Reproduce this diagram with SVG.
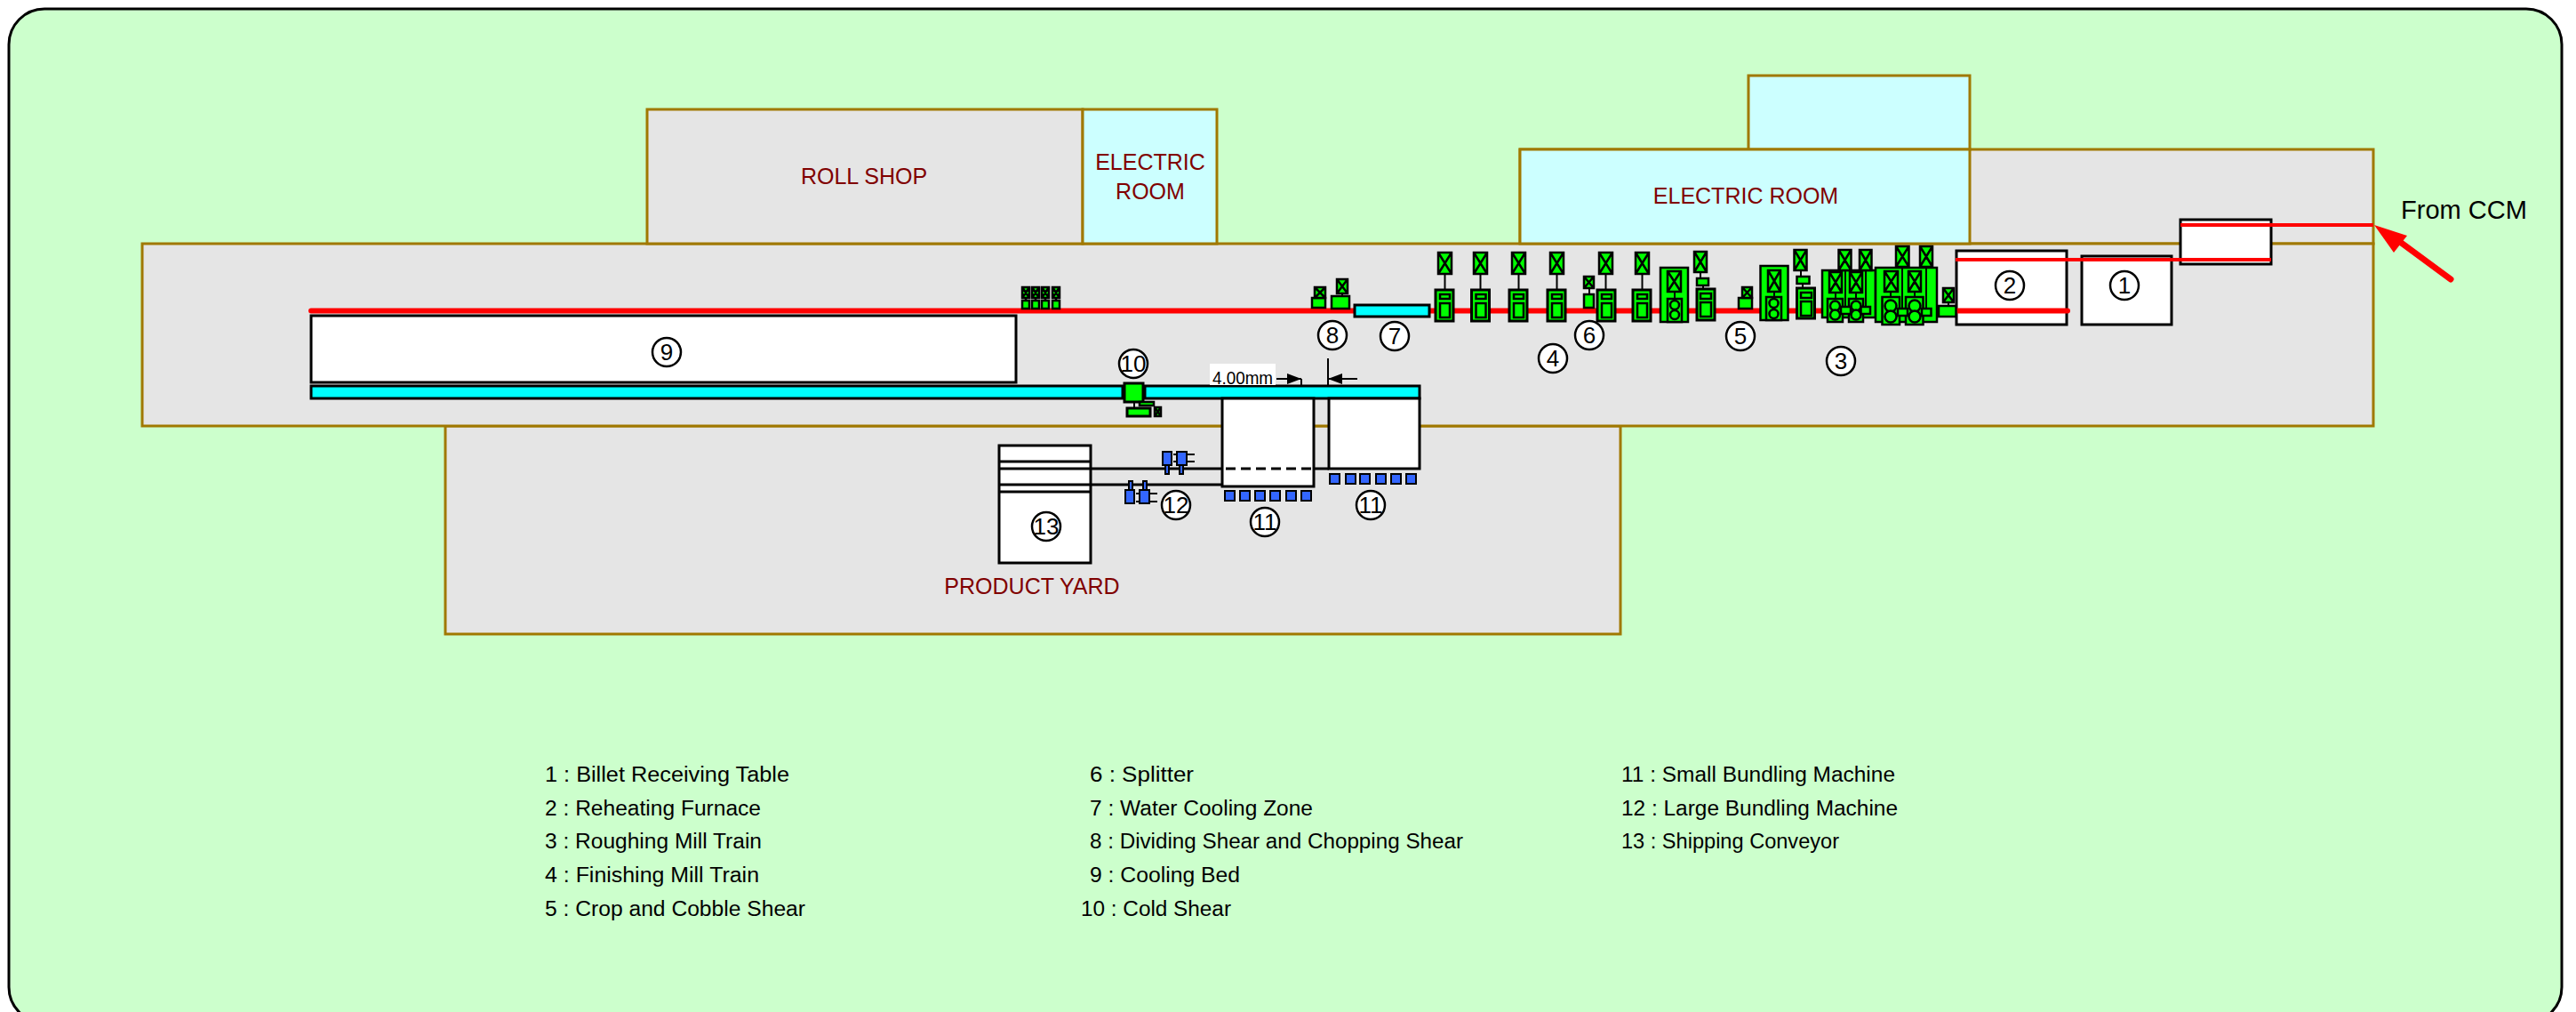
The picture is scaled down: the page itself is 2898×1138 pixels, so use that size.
<svg xmlns="http://www.w3.org/2000/svg" width="2898" height="1138" viewBox="0 0 2898 1138">
<style>
text{font-family:"Liberation Sans",Arial,sans-serif;fill:#000}
.b{fill:#e5e5e5;stroke:#a07800;stroke-width:3}
.c{fill:#ccffff;stroke:#a07800;stroke-width:3}
.r{font-size:25px;fill:#800000;text-anchor:middle}
.l{font-size:23px}
.n{font-size:26px;text-anchor:middle}
.o{fill:#fff;stroke:#000;stroke-width:2.5}
.w{fill:#fff;stroke:#000;stroke-width:3}
.g{fill:#00ff00;stroke:#000;stroke-width:2.5}
.g2{fill:#00ff00;stroke:#000;stroke-width:3}
.q{fill:#00ffff;stroke:#000;stroke-width:3}
.p{fill:#3366ff;stroke:#000;stroke-width:2}
.k{fill:none;stroke:#000;stroke-width:2}
.k3{fill:none;stroke:#000;stroke-width:3}
.red{fill:none;stroke:#f00}
</style>
<defs>
<marker id="ah" markerUnits="userSpaceOnUse" markerWidth="17" markerHeight="12" refX="16" refY="6" orient="auto"><path d="M0 0L16 6L0 12Z" fill="#000"/></marker>
</defs>
<rect id="background" x="10" y="10" width="2872" height="1140" rx="40" ry="40" fill="#ccffcc" stroke="#000" stroke-width="3"/>

<g id="buildings">
<g id="mill-building"><rect class="b" x="1710" y="168" width="960" height="106"/><rect class="b" x="501" y="479" width="1322" height="234"/><rect class="b" x="160" y="274" width="2510" height="205"/></g>
<g id="roll-shop"><rect class="b" x="728" y="123" width="490" height="151"/><text class="r" x="972" y="207">ROLL SHOP</text></g>
<g id="electric-room-1"><rect class="c" x="1218" y="123" width="151" height="151"/><text class="r" x="1294" y="191">ELECTRIC</text><text class="r" x="1294" y="224">ROOM</text></g>
<g id="electric-room-2"><rect class="c" x="1967" y="85" width="249" height="83"/><rect class="c" x="1710" y="168" width="506" height="106"/><text class="r" x="1964" y="229">ELECTRIC ROOM</text></g>
<g id="product-yard-label"><text class="r" x="1161" y="668">PRODUCT YARD</text></g>
</g>

<g id="node-1"><rect class="w" x="2342" y="288" width="101" height="77"/><circle class="o" cx="2390" cy="321" r="16"/><text class="n" x="2390" y="330">1</text></g>
<g id="node-2"><rect class="w" x="2201" y="282" width="124" height="83"/><circle class="o" cx="2261" cy="321" r="16"/><text class="n" x="2261" y="330">2</text></g>
<g id="transfer-table"><rect class="w" x="2453" y="247" width="102" height="50"/></g>

<g id="connectors">
<path class="red" stroke-width="6" d="M350 349.500H1524M1608 349.500H2326" stroke-linecap="round"/>
<path class="red" stroke-width="4" d="M2200 292H2555M2453 253H2670"/>
<path class="red" stroke-width="7" stroke-linecap="round" d="M2757 314L2700 272"/>
<path fill="#f00" d="M2671 253L2708 265L2693 284Z"/>
<path class="k3" d="M1227 527H1375M1478 527H1495M1227 545H1375"/>
</g>

<g id="node-9"><rect class="w" x="350" y="355" width="793" height="75"/><circle class="o" cx="750" cy="396" r="16"/><text class="n" x="750" y="405">9</text></g>

<g id="cooling-conveyor"><rect class="q" x="350" y="434" width="913" height="14"/><rect class="q" x="1288" y="434" width="309" height="14"/></g>

<g id="node-10"><rect class="g2" x="1265" y="431" width="21" height="21"/><path class="k" d="M1276 452V459"/><rect class="g" x="1282" y="452" width="16" height="4"/><rect class="g2" x="1268" y="459" width="26" height="9"/><path class="g" stroke-width="1.5" d="M1299 458h7v10h-7zl7 10m0-10l-7 10"/><circle class="o" cx="1275" cy="409" r="16"/><text class="n" x="1275" y="418">10</text></g>

<g id="small-drives">
<path class="g" d="M1150 323h8v12h-8zl8 12m0-12l-8 12M1161 323h8v12h-8zl8 12m0-12l-8 12M1172 323h8v12h-8zl8 12m0-12l-8 12M1184 323h8v12h-8zl8 12m0-12l-8 12"/>
<path class="g" d="M1154 335v3M1165 335v3M1176 335v3M1188 335v3"/>
<rect class="g" x="1150" y="338" width="8" height="9"/><rect class="g" x="1161" y="338" width="8" height="9"/><rect class="g" x="1172" y="338" width="8" height="9"/><rect class="g" x="1184" y="338" width="8" height="9"/>
</g>

<g id="node-8"><rect class="g" x="1476" y="335" width="15" height="11"/><path class="g" d="M1479 323h12v12h-12zl12 12m0-12l-12 12"/><rect class="g" x="1498" y="333" width="20" height="14"/><path class="k" d="M1510 330v3"/><path class="g" d="M1504 314h12v16h-12zl12 16m0-16l-12 16"/><circle class="o" cx="1499" cy="377" r="16"/><text class="n" x="1499" y="386">8</text></g>

<g id="node-7"><rect class="q" x="1524" y="343" width="84" height="13"/><circle class="o" cx="1569" cy="378" r="16"/><text class="n" x="1569" y="387">7</text></g>

<g id="dimension">
<rect x="1361" y="409" width="74" height="24" fill="#fff"/>
<text x="1364" y="432" font-size="21" textLength="68" lengthAdjust="spacingAndGlyphs">4.00mm</text>
<path class="k" stroke-width="1.5" d="M1436 426H1464" marker-end="url(#ah)"/><path class="k" stroke-width="1.5" d="M1464 426V434M1494 403V434"/><path class="k" stroke-width="1.5" d="M1527 426H1494" marker-end="url(#ah)"/>
</g>

<g id="node-4">
<g id="stand-1"><path class="k" d="M1625.500 308V341"/><path class="g" d="M1618 284h15v24h-15zl15 24m0-24l-15 24"/><rect class="g2" x="1615" y="326" width="20" height="35"/><rect class="g" x="1620" y="331" width="11" height="5"/><rect class="g" x="1620" y="341" width="11" height="16"/></g>
<g id="stand-2"><path class="g" d="M1658 284h15v24h-15zl15 24m0-24l-15 24"/><path class="k" d="M1665.500 308V341"/><rect class="g2" x="1655.500" y="326" width="20" height="35"/><rect class="g" x="1660.500" y="331" width="11" height="5"/><rect class="g" x="1660.500" y="341" width="11" height="16"/></g>
<g id="stand-3"><path class="g" d="M1701 284h15v24h-15zl15 24m0-24l-15 24"/><path class="k" d="M1708.500 308V326"/><rect class="g2" x="1698" y="326" width="20" height="35"/><rect class="g" x="1703" y="331" width="11" height="5"/><rect class="g" x="1703" y="341" width="11" height="16"/></g>
<g id="stand-4"><path class="g" d="M1744 284h15v24h-15zl15 24m0-24l-15 24"/><path class="k" d="M1751.500 308V326"/><rect class="g2" x="1741" y="326" width="20" height="35"/><rect class="g" x="1746" y="331" width="11" height="5"/><rect class="g" x="1746" y="341" width="11" height="16"/></g>
<g id="stand-5"><path class="g" d="M1799 284h15v24h-15zl15 24m0-24l-15 24"/><path class="k" d="M1806.500 308V326"/><rect class="g2" x="1797" y="326" width="20" height="35"/><rect class="g" x="1802" y="331" width="11" height="5"/><rect class="g" x="1802" y="341" width="11" height="16"/></g>
<g id="stand-6"><path class="g" d="M1840 284h15v24h-15zl15 24m0-24l-15 24"/><path class="k" d="M1847.500 308V326"/><rect class="g2" x="1837" y="326" width="20" height="35"/><rect class="g" x="1842" y="331" width="11" height="5"/><rect class="g" x="1842" y="341" width="11" height="16"/></g>
<g id="stand-7"><rect class="g" x="1868" y="301" width="31" height="61"/><path class="k" d="M1884 328v8"/><path class="g" d="M1876 305h15v23h-15zl15 23m0-23l-15 23"/><rect class="g" x="1876" y="336" width="16" height="26"/><circle class="g" cx="1884" cy="343" r="5"/><circle class="g" cx="1884" cy="354" r="5"/></g>
<g id="stand-8"><path class="g" d="M1906 283h14v23h-14zl14 23m0-23l-14 23"/><path class="k" d="M1913 306v7M1916 321v4"/><rect class="g" x="1909" y="313" width="13" height="8"/><rect class="g2" x="1909" y="325" width="20" height="35"/><rect class="g" x="1913" y="330" width="12" height="6"/><rect class="g" x="1913" y="340" width="12" height="16"/></g>
<circle class="o" cx="1747" cy="403" r="16"/><text class="n" x="1747" y="412">4</text>
</g>

<g id="node-6"><path class="g" d="M1782 311h11v13h-11zl11 13m0-13l-11 13"/><path class="k" d="M1788 324v7"/><rect class="g" x="1782" y="331" width="11" height="15"/><circle class="o" cx="1788" cy="377" r="16"/><text class="n" x="1788" y="386">6</text></g>

<g id="node-5"><rect class="g" x="1956" y="335" width="15" height="12"/><path class="g" d="M1960 323h11v12h-11zl11 12m0-12l-11 12"/><circle class="o" cx="1958" cy="378" r="16"/><text class="n" x="1958" y="387">5</text></g>

<g id="node-3">
<g id="rough-1"><rect class="g" x="1980.500" y="299" width="31" height="61"/><path class="k" d="M1996 328v6"/><path class="g" d="M1989 304h14v24h-14zl14 24m0-24l-14 24"/><rect class="g" x="1987" y="334" width="17" height="26"/><circle class="g" cx="1995.500" cy="341" r="5"/><circle class="g" cx="1995.500" cy="353" r="5"/></g>
<g id="rough-2"><path class="g" d="M2018.500 281h14v23h-14zl14 23m0-23l-14 23"/><path class="k" d="M2026 304v7M2028 319v5"/><rect class="g" x="2021.500" y="311" width="14" height="8"/><rect class="g2" x="2021.500" y="324" width="20" height="34"/><rect class="g" x="2026" y="329" width="12" height="6"/><rect class="g" x="2026" y="339" width="12" height="16"/></g>
<g id="rough-3">
<rect class="g" x="2050" y="304" width="60" height="53"/>
<path class="g" d="M2068.500 281h14v23h-14zl14 23m0-23l-14 23M2092 281h13.500v23h-13.500zl13.500 23m0-23l-13.500 23"/>
<path class="k" d="M2076 304v41M2099 304v41M2065 329v7M2088 329v7"/>
<path class="g" d="M2058 306h14v23h-14zl14 23m0-23l-14 23M2081 306h14v23h-14zl14 23m0-23l-14 23"/>
<rect class="g" x="2056" y="336" width="17" height="26"/><rect class="g" x="2080" y="336" width="16" height="26"/>
<circle class="g" cx="2064.500" cy="344" r="5.500"/><circle class="g" cx="2064.500" cy="354" r="5.500"/><circle class="g" cx="2088" cy="344" r="5.500"/><circle class="g" cx="2088" cy="354" r="5.500"/>
<rect class="g" x="2071" y="345" width="11" height="8"/><rect class="g" x="2093.500" y="345" width="10.500" height="8"/>
</g>
<g id="rough-4">
<rect class="g" x="2110" y="301" width="69" height="61"/>
<path class="g" d="M2133 277h14.500v23h-14.500zl14.500 23m0-23l-14.500 23M2160 277h14v23h-14zl14 23m0-23l-14 23"/>
<path class="k" d="M2140 300v47M2167 300v47M2127 328v6M2154 328v6"/>
<path class="g" d="M2120 305h15v23h-15zl15 23m0-23l-15 23M2147 305h14v23h-14zl14 23m0-23l-14 23"/>
<rect class="g" x="2117.500" y="334" width="19.500" height="31"/><rect class="g" x="2144" y="334" width="19.500" height="31"/>
<circle class="g" cx="2127" cy="344" r="6.500"/><circle class="g" cx="2127" cy="356" r="6.500"/><circle class="g" cx="2154" cy="344" r="6.500"/><circle class="g" cx="2154" cy="356" r="6.500"/>
<rect class="g" x="2135" y="347" width="11" height="8"/><rect class="g" x="2162" y="347" width="10.500" height="8"/>
</g>
<g id="rough-5"><path class="k" d="M2192 340v4"/><path class="g" d="M2186 324h12v16h-12zl12 16m0-16l-12 16"/><rect class="g" x="2181" y="344" width="19.500" height="12"/></g>
<circle class="o" cx="2071" cy="406" r="16"/><text class="n" x="2071" y="415">3</text>
</g>

<g id="node-11a"><rect class="w" x="1375" y="448" width="103" height="99"/>
<path class="k3" stroke-dasharray="11 6" d="M1379 527H1478"/>
<rect class="p" x="1378" y="552" width="11" height="11"/><rect class="p" x="1395" y="552" width="11" height="11"/><rect class="p" x="1412" y="552" width="11" height="11"/><rect class="p" x="1429" y="552" width="11" height="11"/><rect class="p" x="1447" y="552" width="11" height="11"/><rect class="p" x="1464" y="552" width="11" height="11"/>
<circle class="o" cx="1423" cy="587" r="16"/><text class="n" x="1423" y="596">11</text></g>

<g id="node-11b"><rect class="w" x="1495" y="448" width="102" height="79"/>
<rect class="p" x="1496" y="533" width="11" height="11"/><rect class="p" x="1514" y="533" width="11" height="11"/><rect class="p" x="1530" y="533" width="11" height="11"/><rect class="p" x="1548" y="533" width="11" height="11"/><rect class="p" x="1565" y="533" width="11" height="11"/><rect class="p" x="1582" y="533" width="11" height="11"/>
<circle class="o" cx="1542" cy="568" r="16"/><text class="n" x="1542" y="577">11</text></g>

<g id="node-12">
<path class="k" d="M1320 511H1344M1320 519H1344M1278 555H1302M1278 564H1302"/>
<rect class="p" x="1311" y="523" width="4" height="10"/><rect class="p" x="1327" y="523" width="4" height="10"/><rect class="p" x="1270" y="541" width="4" height="10"/><rect class="p" x="1286" y="541" width="4" height="10"/>
<rect class="p" x="1308" y="508" width="10" height="15"/><rect class="p" x="1324" y="508" width="11" height="15"/><rect class="p" x="1266" y="551" width="10" height="15"/><rect class="p" x="1282" y="551" width="11" height="15"/>
<circle class="o" cx="1323" cy="568" r="16"/><text class="n" x="1323" y="577">12</text></g>

<g id="node-13"><rect class="w" x="1124" y="501" width="103" height="132"/><path class="k3" d="M1124 519H1227M1124 527H1227M1124 545H1227M1124 553H1227"/><circle class="o" cx="1177" cy="592" r="16"/><text class="n" x="1177" y="601">13</text></g>

<g id="from-ccm"><text x="2701" y="246" font-size="30" textLength="142" lengthAdjust="spacingAndGlyphs">From CCM</text></g>

<g id="legend">
<text class="l" x="613" y="879" textLength="275" lengthAdjust="spacingAndGlyphs">1 : Billet Receiving Table</text>
<text class="l" x="613" y="917" textLength="243" lengthAdjust="spacingAndGlyphs">2 : Reheating Furnace</text>
<text class="l" x="613" y="954" textLength="244" lengthAdjust="spacingAndGlyphs">3 : Roughing Mill Train</text>
<text class="l" x="613" y="992" textLength="241" lengthAdjust="spacingAndGlyphs">4 : Finishing Mill Train</text>
<text class="l" x="613" y="1030" textLength="293" lengthAdjust="spacingAndGlyphs">5 : Crop and Cobble Shear</text>
<text class="l" x="1226" y="879" textLength="117" lengthAdjust="spacingAndGlyphs">6 : Splitter</text>
<text class="l" x="1226" y="917" textLength="251" lengthAdjust="spacingAndGlyphs">7 : Water Cooling Zone</text>
<text class="l" x="1226" y="954" textLength="420" lengthAdjust="spacingAndGlyphs">8 : Dividing Shear and Chopping Shear</text>
<text class="l" x="1226" y="992" textLength="169" lengthAdjust="spacingAndGlyphs">9 : Cooling Bed</text>
<text class="l" x="1216" y="1030" textLength="169" lengthAdjust="spacingAndGlyphs">10 : Cold Shear</text>
<text class="l" x="1824" y="879" textLength="308" lengthAdjust="spacingAndGlyphs">11 : Small Bundling Machine</text>
<text class="l" x="1824" y="917" textLength="311" lengthAdjust="spacingAndGlyphs">12 : Large Bundling Machine</text>
<text class="l" x="1824" y="954" textLength="245" lengthAdjust="spacingAndGlyphs">13 : Shipping Conveyor</text>
</g>
</svg>
